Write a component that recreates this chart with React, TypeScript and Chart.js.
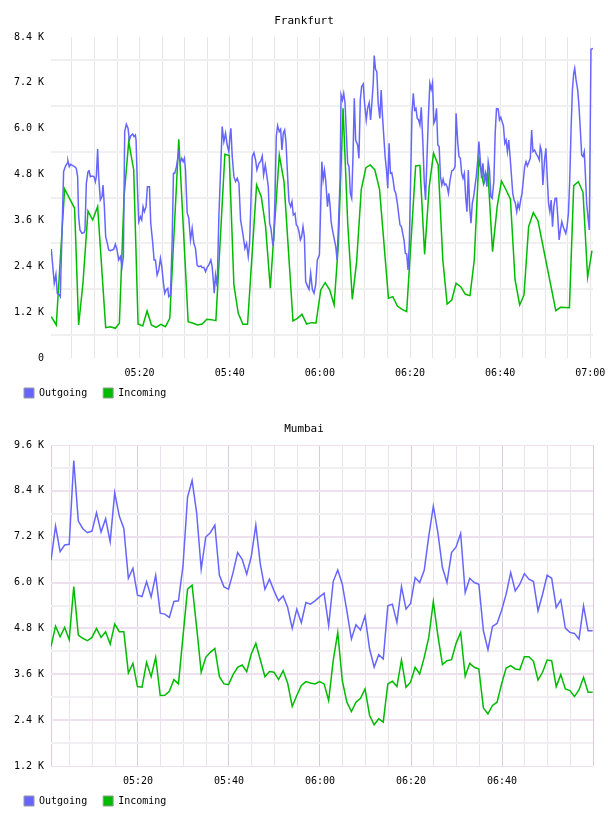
import React, { useEffect, useRef } from "react";
import { Chart, registerables } from "chart.js";

Chart.register(...registerables);

const FONT = "'DejaVu Sans Mono', monospace";
const OUT_COLOR = "#6666ff";
const IN_COLOR = "#00bb00";
const SERIES_NAMES = ["Outgoing", "Incoming"];

// ---------- Frankfurt (x = minutes after 05:00) ----------
const FRA_TITLE = "Frankfurt";
const FRA_X_RANGE = [0.35, 120.6];
const FRA_Y_RANGE = [0, 8400];

const fraOutMinutes = [
  0.41, 1.07, 1.44, 1.74, 2.19, 2.41, 3.15, 3.52, 3.96, 4.11, 4.41, 4.7, 5.15, 5.59, 5.96, 6.26, 6.48, 6.78, 7.22, 7.67,
  7.89, 8.19, 8.56, 8.78, 9.07, 9.44, 9.89, 10.19, 10.41, 10.7, 10.93, 11.3, 11.67, 11.89, 12.19, 12.48, 12.85, 13.15, 13.52, 13.89,
  14.26, 14.63, 15.0, 15.37, 15.74, 16.11, 16.41, 16.7, 17.07, 17.44, 17.74, 18.04, 18.48, 18.78, 19.07, 19.22, 19.52, 19.81, 20.19, 20.48,
  20.78, 21.07, 21.44, 21.74, 22.19, 22.48, 22.93, 23.22, 23.52, 23.89, 24.26, 24.63, 24.93, 25.3, 25.59, 25.89, 26.26, 26.48, 26.85, 27.22,
  27.52, 27.81, 28.19, 28.63, 29.0, 29.37, 29.67, 29.96, 30.19, 30.56, 30.93, 31.3, 31.67, 32.04, 32.41, 32.78, 33.15, 33.59, 33.89, 34.26,
  34.63, 35.0, 35.37, 35.81, 36.11, 36.41, 36.56, 36.85, 37.22, 37.59, 38.04, 38.33, 38.7, 39.07, 39.44, 39.81, 40.04, 40.26, 40.56, 40.93,
  41.3, 41.67, 42.04, 42.41, 42.78, 43.07, 43.37, 43.74, 44.11, 44.41, 44.7, 45.0, 45.37, 45.74, 46.04, 46.48, 46.85, 47.22, 47.52, 47.89,
  48.26, 48.56, 48.85, 49.15, 49.52, 49.74, 50.04, 50.33, 50.63, 51.0, 51.3, 51.59, 51.89, 52.19, 52.48, 52.85, 53.15, 53.52, 53.81, 54.11,
  54.48, 54.78, 55.07, 55.37, 55.67, 55.96, 56.26, 56.56, 56.85, 57.3, 57.59, 57.96, 58.33, 58.7, 59.07, 59.44, 59.9, 60.44, 60.73, 61.03,
  61.32, 61.69, 61.98, 62.28, 62.5, 62.79, 63.16, 63.53, 63.82, 64.11, 64.48, 64.7, 65.0, 65.29, 65.59, 65.88, 66.17, 66.47, 66.76, 67.06,
  67.35, 67.64, 67.94, 68.38, 68.67, 68.97, 69.26, 69.63, 69.92, 70.29, 70.59, 70.95, 71.25, 71.54, 71.84, 72.06, 72.35, 72.64, 72.94, 73.31,
  73.6, 73.9, 74.19, 74.48, 74.78, 75.07, 75.36, 75.66, 75.95, 76.25, 76.54, 76.84, 77.2, 77.5, 77.79, 78.09, 78.38, 78.67, 78.97, 79.26,
  79.56, 79.85, 80.14, 80.44, 80.73, 81.03, 81.32, 81.61, 81.91, 82.2, 82.5, 82.86, 83.16, 83.45, 83.75, 84.11, 84.41, 84.7, 85.0, 85.29,
  85.59, 85.88, 86.17, 86.47, 86.76, 87.06, 87.35, 87.64, 87.94, 88.23, 88.53, 88.9, 89.26, 89.63, 90.0, 90.22, 90.6, 90.88, 91.17, 91.47,
  91.76, 92.06, 92.35, 92.64, 92.94, 93.23, 93.53, 93.82, 94.12, 94.41, 94.7, 95.0, 95.29, 95.59, 95.88, 96.17, 96.47, 96.76, 97.06, 97.35,
  97.64, 97.94, 98.23, 98.6, 98.9, 99.19, 99.56, 99.85, 100.14, 100.44, 100.73, 101.03, 101.32, 101.61, 101.91, 102.2, 102.5, 102.79, 103.09, 103.38,
  103.68, 103.97, 104.26, 104.56, 104.85, 105.15, 105.44, 105.74, 106.03, 106.4, 106.69, 106.99, 107.28, 107.65, 108.01, 108.38, 108.68, 108.9, 109.19, 109.48,
  109.85, 110.15, 110.44, 110.74, 111.03, 111.32, 111.62, 111.91, 112.2, 112.5, 112.79, 113.09, 113.38, 113.68, 113.97, 114.26, 114.56, 114.85, 115.15, 115.44,
  115.73, 116.03, 116.32, 116.54, 116.84, 117.2, 117.5, 117.79, 118.09, 118.38, 118.67, 118.97, 119.19, 119.48, 119.78, 120.15, 120.6,
];
const fraOutValues = [
  2853, 1955, 2190, 1693, 1650, 1605, 4877, 5008, 5095, 5156, 5008, 5069, 5034, 5008, 4964, 4746, 3699, 3350, 3263, 3280,
  3350, 4571, 4877, 4920, 4746, 4763, 4746, 4615, 4746, 5470, 4746, 4135, 4222, 4528, 3961, 3176, 3001, 2827, 2809, 2827,
  2844, 2975, 2827, 2565, 2652, 2391, 2652, 5923, 6115, 6011, 5705, 5810, 5862, 5793, 5836, 5705, 4484, 3568, 3699, 3612,
  3961, 3830, 3961, 4484, 4484, 3525, 3001, 2565, 2565, 2172, 2304, 2609, 2391, 1955, 1693, 1780, 1824, 1605, 1650, 3001,
  4833, 4833, 5008, 5356, 5112, 5225, 5138, 5225, 4920, 3804, 3656, 3088, 3394, 3001, 2870, 2426, 2391, 2408, 2365, 2373,
  2260, 2373, 2434, 2565, 2391, 1955, 1693, 2172, 1867, 3699, 5095, 6054, 5662, 5880, 5574, 5400, 5793, 6011, 5269, 4746,
  4615, 4703, 4571, 3612, 3350, 3132, 2870, 3001, 2652, 3001, 4048, 5269, 5374, 5182, 4920, 5095, 5138, 5287, 4790, 5051,
  4746, 4484, 3525, 3394, 3001, 3088, 4135, 5793, 6081, 5923, 5985, 5444, 5880, 5967, 5662, 4746, 4091, 3961, 4091, 3743,
  3786, 3481, 3438, 3307, 3088, 3176, 3438, 3176, 1998, 1867, 1798, 2216, 1798, 1693, 1911, 2565, 2700, 5138, 4659, 4920,
  4615, 3961, 4310, 3961, 3568, 3350, 3132, 2914, 2565, 3438, 4659, 6883, 6752, 6927, 6665, 5880, 5095, 5008, 4310, 4179,
  5269, 6796, 5705, 5574, 5225, 6752, 7101, 7171, 6665, 6229, 6534, 6682, 6229, 6665, 7188, 7912, 7555, 7494, 6665, 6272,
  7014, 6316, 5793, 5269, 4920, 4441, 5618, 4833, 4850, 4659, 4397, 4310, 4048, 3743, 3481, 3438, 3263, 3088, 2739, 2722,
  2304, 3001, 4659, 6403, 6927, 6490, 6534, 6272, 6229, 6098, 6560, 5618, 4615, 4135, 5182, 6403, 7188, 7031, 7206, 6142,
  6229, 6534, 5574, 5531, 4746, 4528, 4676, 4528, 4554, 4484, 4310, 4659, 4894, 4920, 5008, 6403, 5618, 5269, 5225, 4833,
  4703, 4833, 4222, 3830, 4920, 3961, 3525, 4048, 4222, 4484, 4746, 5138, 5662, 5182, 4703, 5095, 4659, 4833, 4484, 5138,
  4920, 4222, 4179, 4615, 5880, 6525, 6516, 6229, 6298, 6185, 6072, 5618, 5705, 5400, 5705, 5269, 4790, 4310, 4135, 4048,
  3830, 4048, 3917, 4135, 4310, 4659, 5008, 5138, 5025, 5138, 5225, 5967, 5400, 5444, 5339, 5269, 5182, 5531, 5400, 4528,
  5182, 5487, 4746, 4048, 3830, 4135, 3438, 3961, 4179, 4179, 3699, 3088, 3350, 3568, 3438, 3350, 3263, 3438, 3786, 4659,
  5967, 7014, 7450, 7581, 7276, 7014, 6578, 5967, 5313, 5269, 5400, 4659, 4048, 3699, 3350, 8078, 8104,
];

const fraInMinutes = [
  0.41, 1.52, 3.37, 5.59, 6.48, 7.44, 8.56, 9.59, 10.7, 12.48, 13.52, 14.63, 15.52, 16.56, 17.59, 18.7, 19.67, 20.7, 21.67, 22.63,
  23.67, 24.7, 25.74, 26.7, 28.7, 30.78, 31.89, 32.85, 33.89, 34.93, 35.89, 36.93, 38.93, 39.89, 40.93, 41.89, 42.93, 43.96, 45.96, 47.0,
  47.96, 49.0, 51.0, 52.04, 54.04, 55.0, 56.04, 57.07, 58.11, 59.15, 60.2, 61.18, 62.2, 63.16, 64.12, 65.15, 66.18, 67.2, 68.16, 69.19,
  70.22, 71.18, 72.2, 73.24, 75.22, 76.18, 77.2, 78.24, 79.26, 81.25, 82.2, 83.24, 84.26, 85.22, 86.25, 87.28, 88.24, 89.26, 90.22, 91.25,
  92.28, 93.31, 94.26, 95.29, 96.32, 97.28, 98.31, 99.34, 100.29, 101.32, 102.28, 103.31, 104.34, 105.29, 106.32, 107.35, 108.38, 112.35, 113.38, 115.37,
  116.32, 117.35, 118.38, 119.41, 120.37,
];
const fraInValues = [
  1082, 864, 4423, 3917, 864, 1955, 3848, 3612, 3961, 794, 820, 777, 908, 4222, 5662, 4920, 890, 838, 1231, 864,
  803, 881, 820, 1039, 5723, 951, 908, 864, 890, 1012, 1004, 977, 5330, 5296, 1911, 1169, 881, 881, 4528, 4222,
  3437, 1824, 5313, 4615, 969, 1039, 1143, 890, 925, 916, 1780, 1972, 1780, 1388, 3001, 6534, 3525, 1536, 2521, 4414,
  4981, 5051, 4920, 4414, 1562, 1606, 1361, 1274, 1213, 5025, 5042, 2713, 4484, 5356, 5051, 2565, 1414, 1518, 1955, 1867,
  1667, 1632, 2565, 5225, 4545, 4877, 2783, 3961, 4632, 4397, 4153, 2042, 1388, 1650, 3437, 3804, 3595, 1239, 1326, 1318,
  4510, 4615, 4336, 2112, 2809,
];

// ---------- Mumbai (one sample per minute) ----------
const MUM_TITLE = "Mumbai";
const MUM_X_RANGE = [0.9, 119.98];
const MUM_Y_RANGE = [1200, 9600];
const MUM_FIRST_MINUTE = 0.9;

const mumOutValues = [
  6583, 7479, 6809, 6983, 7000, 9192, 7609, 7409, 7305, 7348,
  7826, 7322, 7670, 7070, 8348, 7739, 7418, 6113, 6374, 5670,
  5635, 6026, 5626, 6191, 5200, 5174, 5087, 5505, 5522, 6435,
  8235, 8670, 7826, 6348, 7192, 7305, 7505, 6191, 5887, 5826,
  6261, 6783, 6609, 6218, 6679, 7505, 6479, 5826, 6087, 5783,
  5522, 5652, 5348, 4800, 5304, 4948, 5478, 5435, 5522, 5626,
  5722, 4870, 6026, 6331, 5957, 5261, 4522, 4896, 4757, 5131,
  4261, 3783, 4113, 4000, 5391, 5435, 4957, 5896, 5305, 5452,
  6131, 6000, 6322, 7218, 8000, 7305, 6392, 6000, 6783, 6931,
  7287, 5739, 6113, 6000, 5957, 4739, 4244, 4852, 4931, 5278,
  5696, 6261, 5783, 5957, 6235, 6087, 6026, 5261, 5696, 6192,
  6113, 5348, 5548, 4809, 4696, 4670, 4522, 5392, 4739, 4739,
];
const mumInValues = [
  4322, 4861, 4583, 4826, 4505, 5896, 4626, 4539, 4478, 4565,
  4800, 4565, 4713, 4391, 4913, 4713, 4713, 3635, 3887, 3278,
  3261, 3913, 3539, 4043, 3044, 3052, 3157, 3461, 3348, 4592,
  5826, 5931, 4826, 3652, 4043, 4174, 4278, 3539, 3348, 3331,
  3591, 3783, 3843, 3670, 4130, 4409, 3974, 3539, 3670, 3652,
  3461, 3696, 3365, 2757, 3044, 3305, 3409, 3374, 3348, 3409,
  3348, 2913, 3957, 4696, 3435, 2870, 2626, 2870, 2974, 3218,
  2522, 2278, 2435, 2348, 3348, 3418, 3278, 3974, 3261, 3392,
  3783, 3609, 4043, 4565, 5504, 4609, 3852, 3957, 3983, 4409,
  4696, 3548, 3887, 3783, 3739, 2722, 2565, 2783, 2870, 3348,
  3765, 3826, 3739, 3722, 4061, 4061, 3939, 3452, 3652, 3974,
  3957, 3278, 3591, 3218, 3174, 3017, 3191, 3522, 3131, 3131,
];
const mumMinutes = mumOutValues.map((_, i) => MUM_FIRST_MINUTE + i);

// ---------- helpers ----------
function fmtTime(t: number): string {
  const h = 5 + Math.floor(t / 60);
  const m = Math.round(t - Math.floor(t / 60) * 60);
  return String(h).padStart(2, "0") + ":" + String(m).padStart(2, "0");
}
function fmtK(v: number): string {
  return v === 0 ? "0" : (v / 1000).toFixed(1) + " K";
}
function toPoints(xs: number[], ys: number[]) {
  return xs.map((x, i) => ({ x, y: ys[i] }));
}

// keeps the legend row tucked right under the time labels
const legendPlacement = {
  id: "legendPlacement",
  beforeDraw(chart: any) {
    const lg = chart.legend;
    if (!lg || !chart.chartArea) return;
    lg.top = chart.chartArea.bottom + 14;
    lg.bottom = lg.top + lg.height;
  },
};

type Theme = "fra" | "mum";

function buildConfig(
  title: string,
  theme: Theme,
  xRange: number[],
  yRange: number[],
  outX: number[],
  outY: number[],
  inX: number[],
  inY: number[]
): any {
  const isMum = theme === "mum";
  const [xMin, xMax] = xRange;
  const [yMin, yMax] = yRange;
  return {
    type: "line",
    data: {
      datasets: [
        {
          label: SERIES_NAMES[0],
          data: toPoints(outX, outY),
          borderColor: OUT_COLOR,
          backgroundColor: OUT_COLOR,
          borderWidth: 1.5,
          pointRadius: 0,
          tension: 0,
          fill: false,
        },
        {
          label: SERIES_NAMES[1],
          data: toPoints(inX, inY),
          borderColor: IN_COLOR,
          backgroundColor: IN_COLOR,
          borderWidth: 1.5,
          pointRadius: 0,
          tension: 0,
          fill: false,
        },
      ],
    },
    plugins: [legendPlacement],
    options: {
      responsive: false,
      animation: false,
      devicePixelRatio: 1,
      events: [],
      layout: { padding: { left: 8, right: 8, top: 0, bottom: 0 } },
      plugins: {
        title: {
          display: true,
          text: title,
          color: "#000",
          font: { family: FONT, size: 11, weight: "normal" },
          padding: { top: 14.4, bottom: 9.4 },
        },
        legend: {
          display: true,
          position: "bottom",
          align: "start",
          maxHeight: 29,
          labels: {
            boxWidth: 10,
            boxHeight: 10,
            padding: 16,
            color: "#000",
            font: { family: FONT, size: 10 },
            generateLabels: (chart: any) =>
              chart.data.datasets.map((ds: any, i: number) => ({
                text: ds.label,
                fillStyle: ds.borderColor,
                strokeStyle: "#999999",
                lineWidth: 1,
                hidden: false,
                datasetIndex: i,
              })),
          },
        },
        tooltip: { enabled: false },
      },
      scales: {
        x: {
          type: "linear",
          min: xMin,
          max: xMax,
          afterBuildTicks: (scale: any) => {
            const ticks: any[] = [];
            if (isMum) ticks.push({ value: xMin });
            for (let v = Math.ceil(xMin / 5) * 5; v <= xMax + 1e-9; v += 5) ticks.push({ value: v });
            if (isMum) ticks.push({ value: xMax });
            scale.ticks = ticks;
          },
          afterFit: (scale: any) => {
            scale.height = 21;
            scale.paddingLeft = 0;
            scale.paddingRight = 15;
          },
          ticks: {
            autoSkip: false,
            maxRotation: 0,
            minRotation: 0,
            padding: 9,
            color: "#000",
            font: { family: FONT, size: 10 },
            callback: (v: number) => (Math.abs(v % 20) < 1e-6 ? fmtTime(v) : ""),
          },
          grid: {
            drawTicks: false,
            lineWidth: 1,
            color: (ctx: any) => {
              const v = ctx.tick ? ctx.tick.value : 0;
              if (!isMum) return "#e6e6e6";
              if (v === xMin || v === xMax || Math.abs(v % 20) < 1e-6) return "#dccbe0";
              return "#ebe3ec";
            },
          },
          border: { display: false },
        },
        y: {
          type: "linear",
          min: yMin,
          max: yMax,
          afterBuildTicks: (scale: any) => {
            const ticks: any[] = [];
            for (let v = yMin; v <= yMax; v += 600) ticks.push({ value: v });
            scale.ticks = ticks;
          },
          afterFit: (scale: any) => {
            scale.width = 43;
          },
          ticks: {
            autoSkip: false,
            padding: 7,
            color: "#000",
            font: { family: FONT, size: 10 },
            callback: (v: number) => (v % 1200 === 0 ? fmtK(v) : ""),
          },
          grid: {
            drawTicks: false,
            lineWidth: (ctx: any) => {
              const v = ctx.tick ? ctx.tick.value : 0;
              if (isMum && (v === yMin || v === yMax)) return 1;
              return 2;
            },
            color: (ctx: any) => {
              const v = ctx.tick ? ctx.tick.value : 0;
              if (!isMum) return v % 1200 === 0 ? "rgba(0,0,0,0)" : "#f0f0f0";
              return v % 1200 === 0 ? "#efe0ef" : "#f1eff1";
            },
          },
          border: { display: false },
        },
      },
    },
  };
}

function ChartPanel({ make }: { make: () => any }) {
  const ref = useRef<HTMLCanvasElement | null>(null);
  useEffect(() => {
    if (!ref.current) return;
    const chart = new Chart(ref.current, make());
    return () => chart.destroy();
  }, []);
  return <canvas ref={ref} width={608} height={408} style={{ display: "block", width: 608, height: 408 }} />;
}

export default function App() {
  return (
    <div style={{ position: "absolute", left: 0, top: 0, width: 608, background: "#fff" }}>
      <ChartPanel
        make={() =>
          buildConfig(FRA_TITLE, "fra", FRA_X_RANGE, FRA_Y_RANGE, fraOutMinutes, fraOutValues, fraInMinutes, fraInValues)
        }
      />
      <ChartPanel
        make={() =>
          buildConfig(MUM_TITLE, "mum", MUM_X_RANGE, MUM_Y_RANGE, mumMinutes, mumOutValues, mumMinutes, mumInValues)
        }
      />
    </div>
  );
}
